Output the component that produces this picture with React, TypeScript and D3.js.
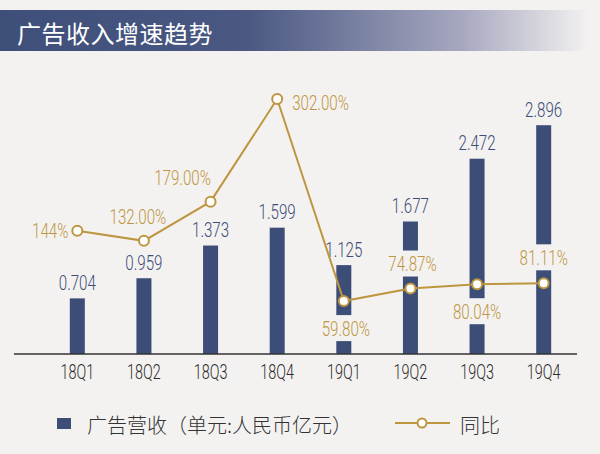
import React from 'react';
import * as d3 from 'd3';

const W = 600;
const H = 454;
const BG = '#f4f2f1';
const NAVY = '#3c4d77';
const GOLD = '#bd963f';
const NUM_FONT = "Roboto, 'DejaVu Sans', sans-serif";
const CJK_FONT = "'Noto Sans CJK SC', sans-serif";
const SQUEEZE = 0.72;

const quarters = ['18Q1', '18Q2', '18Q3', '18Q4', '19Q1', '19Q2', '19Q3', '19Q4'];
const revenue = [0.704, 0.959, 1.373, 1.599, 1.125, 1.677, 2.472, 2.896];
const growth = [144, 132, 179, 302, 59.8, 74.87, 80.04, 81.11];
const growthLabels = ['144%', '132.00%', '179.00%', '302.00%', '59.80%', '74.87%', '80.04%', '81.11%'];

// label placement relative to each growth point: [dx, dy, anchor]
const growthLayout: [number, number, 'start' | 'middle' | 'end'][] = [
  [-9, 0, 'end'],
  [-6, -24, 'middle'],
  [-28, -24, 'middle'],
  [15, 4, 'start'],
  [2, 27, 'middle'],
  [2, -25, 'middle'],
  [0, 27, 'middle'],
  [0, -26, 'middle'],
];

const BASE = 354;

// rough width of the squeezed number font
const numWidth = (s: string, size: number) =>
  s.split('').reduce((a, c) => a + (c === '.' ? 0.26 : c === '%' ? 0.72 : 0.56) * size, 0) * SQUEEZE;

type NumTextProps = {
  x: number;
  y: number;
  size: number;
  fill: string;
  anchor?: 'start' | 'middle' | 'end';
  children: string;
};

const NumText = ({ x, y, size, fill, anchor = 'middle', children }: NumTextProps) => (
  <text
    transform={`translate(${x},${y}) scale(${SQUEEZE},1)`}
    textAnchor={anchor}
    dominantBaseline="central"
    fontFamily={NUM_FONT}
    fontWeight={300}
    fontSize={size}
    fill={fill}
  >
    {children}
  </text>
);

export default function App() {
  const x = d3.scaleBand<string>().domain(quarters).range([44, 577]);
  const cx = (q: string) => (x(q) ?? 0) + x.bandwidth() / 2;
  const yBar = d3.scaleLinear().domain([0, 3]).range([BASE, BASE - 3 * 79]);
  const yLine = d3.scaleLinear().domain([0, 302]).range([351, 99]);

  const line = d3
    .line<number>()
    .x((_, i) => cx(quarters[i]))
    .y((d) => yLine(d));

  const barW = 15;

  const growthText = growth.map((v, i) => {
    const [dx, dy, anchor] = growthLayout[i];
    const tx = cx(quarters[i]) + dx;
    const ty = yLine(v) + dy;
    const w = numWidth(growthLabels[i], 21);
    const rx = anchor === 'middle' ? tx - w / 2 : anchor === 'end' ? tx - w : tx;
    return (
      <g key={quarters[i]}>
        <rect x={rx - 3} y={ty - 13} width={w + 6} height={26} fill={BG} />
        <NumText x={tx} y={ty} size={21} fill={GOLD} anchor={anchor}>
          {growthLabels[i]}
        </NumText>
      </g>
    );
  });

  return (
    <svg width={W} height={H} style={{ position: 'absolute', left: 0, top: 0 }}>
      <defs>
        <linearGradient id="titleGrad" x1="0" x2="1" y1="0" y2="0">
          <stop offset="0" stopColor="#3e4f7a" />
          <stop offset="0.42" stopColor="#4a5882" />
          <stop offset="0.78" stopColor="#a6a7bf" />
          <stop offset="1" stopColor="#f4f2f1" />
        </linearGradient>
      </defs>
      <rect width={W} height={H} fill={BG} />
      <rect x={0} y={10} width={590} height={41} fill="url(#titleGrad)" />
      <text
        x={17}
        y={32}
        dominantBaseline="central"
        fontFamily={CJK_FONT}
        fontSize={24}
        letterSpacing={0.5}
        fill="#ffffff"
      >
        广告收入增速趋势
      </text>

      {quarters.map((q, i) => (
        <rect
          key={q}
          x={cx(q) - barW / 2}
          y={yBar(revenue[i])}
          width={barW}
          height={BASE - yBar(revenue[i])}
          fill={NAVY}
        />
      ))}
      {quarters.map((q, i) => (
        <NumText key={q} x={cx(q)} y={yBar(revenue[i]) - 16} size={21} fill={NAVY}>
          {revenue[i].toFixed(3)}
        </NumText>
      ))}

      <line x1={14} x2={577} y1={BASE} y2={BASE} stroke="#333" strokeWidth={1.5} />
      {quarters.map((q) => (
        <NumText key={q} x={cx(q)} y={372.5} size={20} fill="#2a2a2a">
          {q}
        </NumText>
      ))}

      {growthText}
      <path d={line(growth) ?? ''} fill="none" stroke={GOLD} strokeWidth={2} />
      {growth.map((v, i) => (
        <circle key={i} cx={cx(quarters[i])} cy={yLine(v)} r={5} fill="#fff" stroke={GOLD} strokeWidth={2} />
      ))}

      <rect x={57} y={418} width={14} height={11} fill={NAVY} />
      <text x={87} y={424} dominantBaseline="central" fontFamily={CJK_FONT} fontWeight={300} fontSize={20} fill="#333">
        广告营收（单元:人民币亿元）
      </text>
      <line x1={395} x2={450} y1={423} y2={423} stroke={GOLD} strokeWidth={2} />
      <circle cx={422} cy={423} r={4.5} fill="#fff" stroke={GOLD} strokeWidth={2} />
      <text x={460} y={424} dominantBaseline="central" fontFamily={CJK_FONT} fontWeight={300} fontSize={20} fill="#333">
        同比
      </text>
    </svg>
  );
}
